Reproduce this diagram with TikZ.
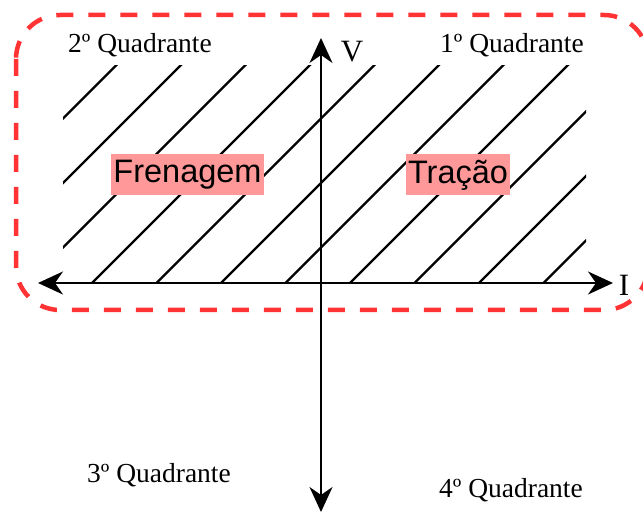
\documentclass[tikz,border=0pt]{standalone}
\usepackage{fontspec}
\setmainfont{Liberation Serif}
\setsansfont{Liberation Sans}
\usetikzlibrary{arrows.meta,calc}
\definecolor{LimitClr}{RGB}{255,51,51}
\definecolor{LabelClr}{RGB}{255,153,153}

\begin{document}
\begin{tikzpicture}[x=1pt,y=-1pt,
  axis/.style={line width=2pt,{Stealth[length=25pt,width=23pt,inset=8pt]}-{Stealth[length=25pt,width=23pt,inset=8pt]}},
  hatch/.style={line width=2.4pt},
  quad/.style={font=\fontsize{27.5}{32}\selectfont,anchor=base,inner sep=0pt},
  axlabel/.style={font=\fontsize{31}{35}\selectfont,anchor=base,inner sep=0pt},
  region/.style={fill=LabelClr,font=\sffamily\fontsize{32.5}{37}\selectfont,inner xsep=2.5pt,minimum height=41pt}]
\useasboundingbox (0,0) rectangle (643,513);

\coordinate (O) at (321,283);
\coordinate (Iminus) at (38,283);
\coordinate (Iplus) at (613,283);
\coordinate (Vplus) at (321,38);
\coordinate (Vminus) at (321,512);

\draw[LimitClr,line width=4.5pt,dash pattern=on 17pt off 15pt,rounded corners=44pt] (16,15) rectangle (648,310);

\begin{scope}
\clip (63,66) rectangle (586,283);
\foreach \k in {-2,...,8}
  \draw[hatch] ({7.5+64.5*\k},303) -- ++(260,-260);
\end{scope}

\draw[axis] (Iminus) -- (Iplus);
\draw[axis] (Vplus) -- (Vminus);

\node[axlabel] (V) at (352,62) {V};
\node[axlabel] (I) at (624,295) {I};

\node[quad] (Q1) at (512,53) {1º Quadrante};
\node[quad] (Q2) at (140,53) {2º Quadrante};
\node[quad] (Q3) at (159,482) {3º Quadrante};
\node[quad] (Q4) at (511,497) {4º Quadrante};

\node[region] (fren) at (187.5,174.5) {Frenagem};
\node[region] (trac) at (458,175) {Tração};

\end{tikzpicture}
\end{document}
